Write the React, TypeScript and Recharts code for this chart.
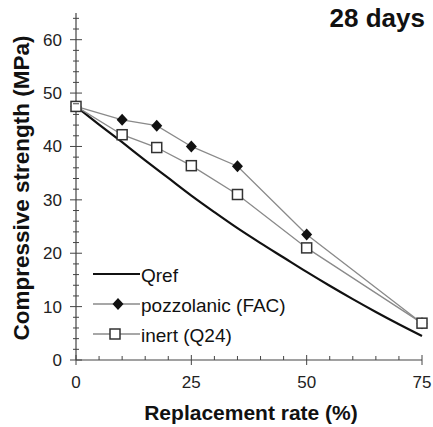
import React from 'react';
import { LineChart, Line, XAxis, YAxis, Legend } from 'recharts';

// Qref reference curve
const qrefRates = [0, 5, 10, 15, 20, 25, 30, 35, 40, 45, 50, 55, 60, 65, 70, 75];
const qrefStrength = [47.5, 44.1, 40.8, 37.4, 34.1, 30.8, 27.7, 24.7, 21.9, 19.2, 16.5, 13.9, 11.4, 9.0, 6.7, 4.5];

// Measured series
const replacementRates = [0, 10, 17.5, 25, 35, 50, 75];
const pozzolanicFAC = [47.5, 45.0, 43.9, 40.0, 36.3, 23.5, 6.9];
const inertQ24 = [47.5, 42.2, 39.8, 36.4, 31.0, 21.0, 6.9];

const seriesNames = ['Qref', 'pozzolanic (FAC)', 'inert (Q24)'];

const xTicks = [0, 5, 10, 15, 20, 25, 30, 35, 40, 45, 50, 55, 60, 65, 70, 75];
const xLabelTicks = [0, 25, 50, 75];
const yTicks = [0, 2, 4, 6, 8, 10, 12, 14, 16, 18, 20, 22, 24, 26, 28, 30, 32, 34, 36, 38, 40, 42, 44, 46, 48, 50, 52, 54, 56, 58, 60, 62, 64];
const yLabelTicks = [0, 10, 20, 30, 40, 50, 60];

const qrefData = qrefRates.map((x, i) => ({ x, y: qrefStrength[i] }));
const facData = replacementRates.map((x, i) => ({ x, y: pozzolanicFAC[i] }));
const q24Data = replacementRates.map((x, i) => ({ x, y: inertQ24[i] }));

const FONT = '"Liberation Sans", Arial, Helvetica, sans-serif';
const AXIS = '#444';
const GRAY = '#8a8a8a';

const YTick = (props: any) => {
  const { x, y, payload } = props;
  const v = payload.value;
  const major = yLabelTicks.includes(v);
  const len = major ? 6 : 3;
  return (
    <g>
      <line x1={x - len} x2={x + len} y1={y} y2={y} stroke={AXIS} strokeWidth={1} />
      {major && (
        <text x={x - 14} y={y} dy={6} textAnchor="end" fontSize={17} fill="#222" fontFamily={FONT}>
          {v}
        </text>
      )}
    </g>
  );
};

const XTick = (props: any) => {
  const { x, y, payload } = props;
  const v = payload.value;
  const major = xLabelTicks.includes(v);
  return (
    <g>
      <line x1={x} x2={x} y1={y - (major ? 5 : 4)} y2={y + (major ? 5 : 0)} stroke={AXIS} strokeWidth={1} />
      {major && (
        <text x={x} y={y + 28} textAnchor="middle" fontSize={17} fill="#222" fontFamily={FONT}>
          {v}
        </text>
      )}
    </g>
  );
};

const XTitle = (props: any) => {
  const vb = props.viewBox || { x: 76, y: 360, width: 346, height: 30 };
  return (
    <text x={vb.x + vb.width / 2 + 2} y={420} textAnchor="middle" fontSize={21} fontWeight="bold" fill="#111" fontFamily={FONT}>
      Replacement rate (%)
    </text>
  );
};

const YTitle = () => (
  <text
    x={29}
    y={188}
    transform="rotate(-90, 29, 188)"
    textAnchor="middle"
    fontSize={22.5}
    fontWeight="bold"
    fill="#111"
    fontFamily={FONT}
  >
    Compressive strength (MPa)
  </text>
);

const Diamond = (p: any) => {
  const { cx, cy, index } = p;
  if (cx == null || cy == null) return <g key={`d${index}`} />;
  return (
    <path
      key={`d${index}`}
      d={`M${cx},${cy - 6} L${cx + 5.5},${cy} L${cx},${cy + 6} L${cx - 5.5},${cy} Z`}
      fill="#111"
    />
  );
};

const Square = (p: any) => {
  const { cx, cy, index } = p;
  if (cx == null || cy == null) return <g key={`s${index}`} />;
  return <rect key={`s${index}`} x={cx - 5} y={cy - 5} width={10} height={10} fill="#fff" stroke="#333" strokeWidth={1.5} />;
};

const LegendContent = (props: any) => {
  const payload = [...(props.payload || [])].sort(
    (a: any, b: any) => seriesNames.indexOf(a.value) - seriesNames.indexOf(b.value)
  );
  return (
    <div style={{ fontFamily: FONT }}>
      {payload.map((entry: any, i: number) => {
        const name = entry.value;
        const isRef = name === seriesNames[0];
        const isFac = name === seriesNames[1];
        return (
          <div key={i} style={{ display: 'flex', alignItems: 'center', height: 30 }}>
            <svg width={48} height={30} style={{ display: 'block' }}>
              <line x1={0} x2={47} y1={15} y2={15} stroke={isRef ? '#111' : GRAY} strokeWidth={isRef ? 2 : 1.3} />
              {isFac && <path d="M25,9 L30.5,15 L25,21 L19.5,15 Z" fill="#111" />}
              {!isRef && !isFac && <rect x={17} y={10} width={10} height={10} fill="#fff" stroke="#333" strokeWidth={1.5} />}
            </svg>
            <span style={{ fontSize: 19, color: '#111', paddingTop: 4, lineHeight: '26px' }}>{name}</span>
          </div>
        );
      })}
    </div>
  );
};

export default function App() {
  return (
    <div style={{ position: 'absolute', left: 0, top: 0, width: 433, height: 427, background: '#fff', fontFamily: FONT }}>
      <LineChart width={433} height={427} margin={{ top: 13, right: 11, bottom: 37, left: 0 }}>
        <XAxis
          dataKey="x"
          type="number"
          domain={[0, 75]}
          ticks={xTicks}
          interval={0}
          tickSize={0}
          tickMargin={0}
          tickLine={false}
          tick={<XTick />}
          axisLine={{ stroke: AXIS, strokeWidth: 1.2 }}
          height={30}
          allowDuplicatedCategory={false}
          label={<XTitle />}
        />
        <YAxis
          type="number"
          domain={[0, 65]}
          ticks={yTicks}
          interval={0}
          tickSize={0}
          tickMargin={0}
          tickLine={false}
          tick={<YTick />}
          axisLine={{ stroke: AXIS, strokeWidth: 1.2 }}
          width={76}
          label={<YTitle />}
        />
        <Legend
          layout="horizontal"
          verticalAlign="middle"
          align="center"
          wrapperStyle={{ left: 93, top: 259, width: 220, height: 90 }}
          content={<LegendContent />}
        />
        <Line
          data={qrefData}
          dataKey="y"
          name={seriesNames[0]}
          type="monotone"
          stroke="#111"
          strokeWidth={2.2}
          dot={false}
          activeDot={false}
          isAnimationActive={false}
        />
        <Line
          data={facData}
          dataKey="y"
          name={seriesNames[1]}
          type="linear"
          stroke={GRAY}
          strokeWidth={1.3}
          dot={Diamond}
          activeDot={false}
          isAnimationActive={false}
        />
        <Line
          data={q24Data}
          dataKey="y"
          name={seriesNames[2]}
          type="linear"
          stroke={GRAY}
          strokeWidth={1.3}
          dot={Square}
          activeDot={false}
          isAnimationActive={false}
        />
      </LineChart>
      <div
        style={{
          position: 'absolute',
          right: 8,
          top: 5,
          fontSize: 26,
          lineHeight: '26px',
          fontWeight: 'bold',
          color: '#111',
          fontFamily: FONT,
        }}
      >
        28 days
      </div>
    </div>
  );
}
